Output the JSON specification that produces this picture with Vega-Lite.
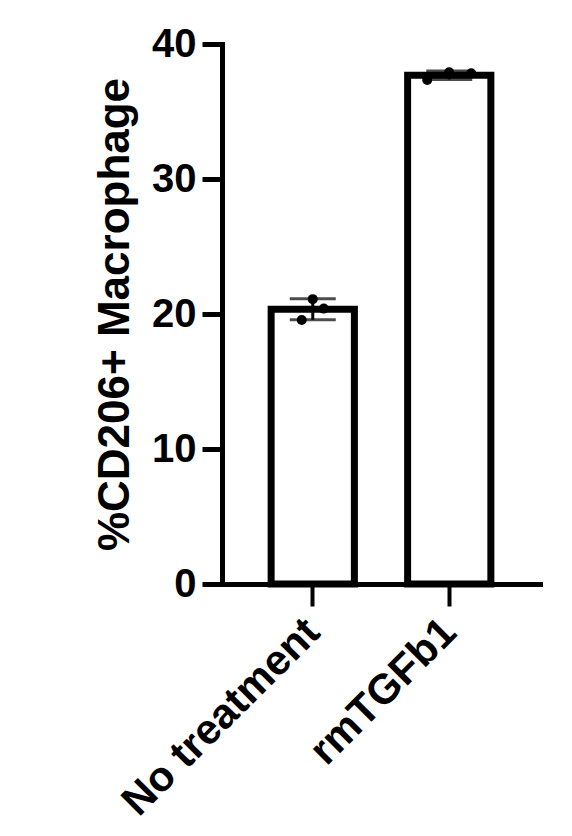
{
  "$schema": "https://vega.github.io/schema/vega-lite/v6.json",
  "autosize": {"type": "none"},
  "padding": {"left": 222, "top": 44, "right": 32, "bottom": 252},
  "width": 318,
  "height": 540,
  "background": "white",
  "data": {
    "values": [
      {"group": "No treatment", "rep": -0.5, "value": 19.55},
      {"group": "No treatment", "rep": 0, "value": 21.1},
      {"group": "No treatment", "rep": 0.5, "value": 20.4},
      {"group": "rmTGFb1", "rep": -1, "value": 37.33},
      {"group": "rmTGFb1", "rep": 0, "value": 37.9},
      {"group": "rmTGFb1", "rep": 1, "value": 37.83}
    ]
  },
  "encoding": {
    "x": {
      "field": "group",
      "type": "nominal",
      "sort": ["No treatment", "rmTGFb1"],
      "scale": {"paddingInner": 0.39, "paddingOuter": 0.36},
      "axis": {
        "title": null,
        "labelAngle": -45,
        "labelAlign": "right",
        "labelBaseline": "middle",
        "labelPadding": 19,
        "labelLimit": 0,
        "labelFontSize": 42,
        "tickSize": 22,
        "tickWidth": 4
      }
    }
  },
  "layer": [
    {
      "mark": {"type": "bar", "fill": "white", "stroke": "black", "strokeWidth": 7},
      "encoding": {
        "y": {
          "aggregate": "mean",
          "field": "value",
          "type": "quantitative",
          "title": "%CD206+ Macrophage",
          "scale": {"domain": [0, 40], "nice": false},
          "axis": {
            "values": [0, 10, 20, 30, 40],
            "tickSize": 20,
            "tickWidth": 5,
            "labelPadding": 6,
            "titleFontSize": 44,
            "titlePadding": 14
          }
        }
      }
    },
    {
      "mark": {
        "type": "errorbar",
        "extent": "stdev",
        "ticks": {"size": 46, "thickness": 3, "color": "black"},
        "rule": {"strokeWidth": 3, "color": "black"}
      },
      "encoding": {
        "y": {"field": "value", "type": "quantitative", "title": "%CD206+ Macrophage"}
      }
    },
    {
      "mark": {"type": "circle", "color": "black", "opacity": 1, "size": 100},
      "encoding": {
        "xOffset": {
          "field": "rep",
          "type": "quantitative",
          "scale": {"domain": [-1, 1], "range": [19.6, 63.6]}
        },
        "y": {"field": "value", "type": "quantitative", "title": "%CD206+ Macrophage"}
      }
    }
  ],
  "resolve": {"scale": {"xOffset": "independent"}},
  "config": {
    "view": {"stroke": null},
    "axis": {
      "grid": false,
      "domainColor": "black",
      "domainWidth": 5,
      "domainCap": "square",
      "tickColor": "black",
      "labelColor": "black",
      "labelFont": "Liberation Sans",
      "labelFontWeight": "bold",
      "labelFontSize": 40,
      "titleColor": "black",
      "titleFont": "Liberation Sans",
      "titleFontWeight": "bold"
    }
  }
}
